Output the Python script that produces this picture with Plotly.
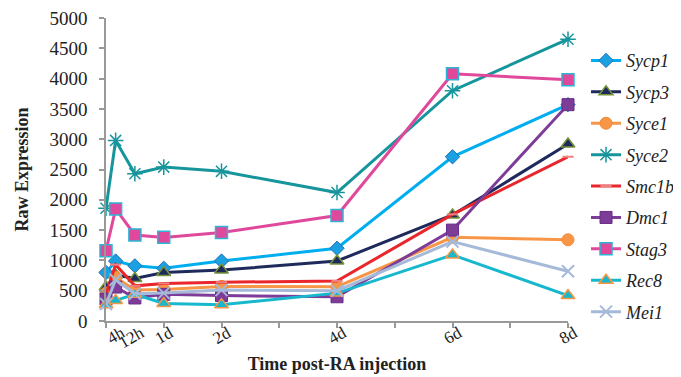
import plotly.graph_objects as go

days = [0, 4/24, 0.5, 1, 2, 4, 6, 8]
tick_vals = [4/24, 0.5, 1, 2, 4, 6, 8]
tick_text = ["4h", "12h", "1d", "2d", "4d", "6d", "8d"]

sycp1 = [800, 990, 910, 870, 990, 1200, 2710, 3570]
sycp3 = [560, 760, 700, 800, 840, 990, 1750, 2920]
syce1 = [460, 720, 510, 520, 570, 566, 1380, 1340]
syce2 = [1860, 2980, 2430, 2540, 2470, 2120, 3800, 4650]
smc1b = [440, 930, 580, 620, 640, 660, 1760, 2710]
dmc1 = [360, 560, 380, 440, 420, 400, 1500, 3570]
stag3 = [1160, 1850, 1420, 1380, 1460, 1740, 4080, 3980]
rec8 = [270, 340, 440, 290, 270, 460, 1090, 420]
mei1 = [280, 680, 450, 460, 510, 500, 1310, 820]

series = [
    ("Sycp1", sycp1, "#00AEEF", dict(symbol="diamond", size=11, color="#1BA1E2", line=dict(color="#1F6FB5", width=1))),
    ("Sycp3", sycp3, "#1F2A5C", dict(symbol="triangle-up", size=12, color="#1F2A5C", line=dict(color="#77933C", width=1.5))),
    ("Syce1", syce1, "#F79646", dict(symbol="circle", size=12, color="#F79646", line=dict(color="#F28A30", width=1))),
    ("Syce2", syce2, "#17959C", dict(symbol="asterisk-open", size=13, color="#17959C", line=dict(color="#17959C", width=1.5))),
    ("Smc1b", smc1b, "#E8262B", dict(symbol="line-ew-open", size=8, color="#F08080", line=dict(color="#F08080", width=2))),
    ("Dmc1", dmc1, "#7D3C98", dict(symbol="square", size=12, color="#7D3C98", line=dict(color="#6A2C8A", width=1))),
    ("Stag3", stag3, "#E0489B", dict(symbol="square", size=12, color="#E0489B", line=dict(color="#2BB5D6", width=1.5))),
    ("Rec8", rec8, "#17B8CE", dict(symbol="triangle-up", size=12, color="#17B8CE", line=dict(color="#F79646", width=1.5))),
    ("Mei1", mei1, "#A5B9D9", dict(symbol="x-thin-open", size=12, color="#A5B9D9", line=dict(color="#A5B9D9", width=2))),
]

fig = go.Figure()
for i, (name, vals, col, mk) in enumerate(series):
    fig.add_trace(go.Scatter(
        x=days, y=vals, name=name, mode="lines+markers",
        line=dict(color=col, width=3), marker=mk, cliponaxis=False,
        legendgroup=name,
    ))

serif = "Liberation Serif"
fig.update_layout(
    width=673, height=369,
    margin=dict(l=98, r=113, t=10, b=56, autoexpand=False),
    paper_bgcolor="white", plot_bgcolor="white",
    font=dict(family=serif, color="#222", size=18),
    legend=dict(x=1.039, xanchor="left", y=0.92, yanchor="top",
                font=dict(family=serif, size=18, style="italic"),
                tracegroupgap=5, itemwidth=30),
    xaxis=dict(range=[0, 8], tickvals=tick_vals, ticktext=tick_text, tickangle=-30,
               ticks="", showline=True, linecolor="#999", linewidth=1.5,
               showgrid=False, zeroline=False, automargin=False,
               ticklabelshift=6, ticklabelstandoff=-6, ticklabeloverflow="allow",
               tickfont=dict(family=serif, size=17),
               minor=dict(tickvals=[0, 1, 2, 3, 4, 5, 6, 7, 8], ticks="outside", ticklen=5, tickcolor="#999", tickwidth=1.5),
               title=dict(text="<b>Time post-RA injection</b>", font=dict(family=serif, size=18), standoff=6)),
    yaxis=dict(range=[0, 5000], dtick=500, ticks="outside", ticklen=5, tickcolor="#999", tickwidth=1.5,
               showline=True, linecolor="#999", linewidth=1.5, showgrid=False, zeroline=False,
               automargin=False, ticklabelstandoff=8, ticklabeloverflow="allow",
               tickfont=dict(family=serif, size=19),
               title=dict(text="<b>Raw Expression</b>", font=dict(family=serif, size=18), standoff=16)),
)

fig.write_html("out.html")
